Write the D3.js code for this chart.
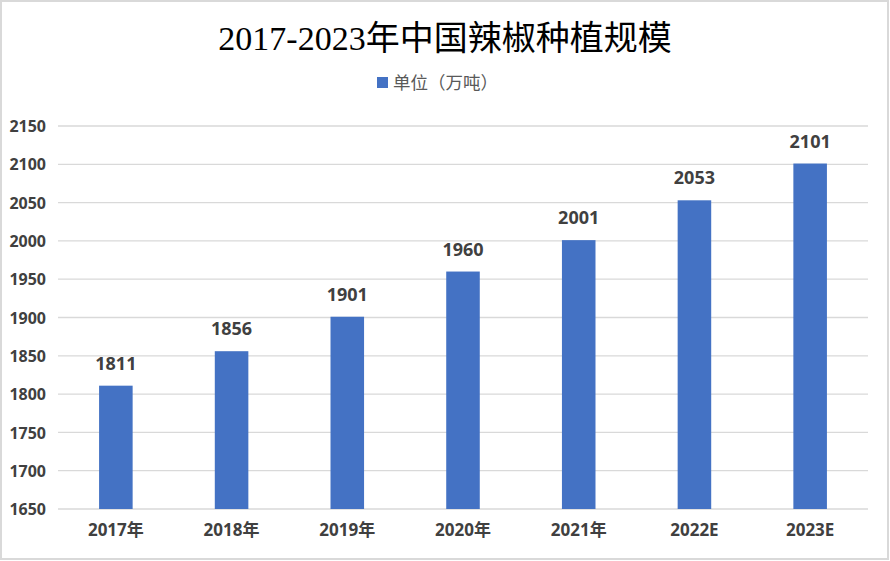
<!DOCTYPE html>
<html>
<head>
<meta charset="utf-8">
<script src="https://cdn.jsdelivr.net/npm/d3@7"></script>
<style>
  body { margin: 0; background: #fff; }
  svg { display: block; }
</style>
</head>
<body>
<svg id="chart" width="890" height="561"></svg>
<script>
const categories = ['2017年', '2018年', '2019年', '2020年', '2021年', '2022E', '2023E'];
const values = [1811, 1856, 1901, 1960, 2001, 2053, 2101];
const yTicks = [1650, 1700, 1750, 1800, 1850, 1900, 1950, 2000, 2050, 2100, 2150];
const seriesName = '单位（万吨）';
const title = '2017-2023年中国辣椒种植规模';

const svg = d3.select('#chart');
const width = +svg.attr('width');
const height = +svg.attr('height');
const margin = { top: 126, right: 22, bottom: 52, left: 58 };

svg.append('rect')
  .attr('x', 1).attr('y', 1)
  .attr('width', width - 3).attr('height', height - 3)
  .attr('fill', '#fff')
  .attr('stroke', '#d9d9d9')
  .attr('stroke-width', 2);

const x = d3.scaleBand()
  .domain(categories)
  .range([margin.left, width - margin.right])
  .paddingInner(0.71)
  .paddingOuter(0.355);

const y = d3.scaleLinear()
  .domain([1650, 2150])
  .range([height - margin.bottom, margin.top]);

// gridlines
svg.append('g')
  .selectAll('line')
  .data(yTicks)
  .enter().append('line')
  .attr('x1', margin.left)
  .attr('x2', width - margin.right)
  .attr('y1', d => y(d))
  .attr('y2', d => y(d))
  .attr('stroke', '#d9d9d9')
  .attr('stroke-width', 1.3);

// y axis labels
const yAxis = svg.append('g')
  .attr('transform', `translate(${margin.left - 12},0)`)
  .call(d3.axisLeft(y).tickValues(yTicks).tickFormat(d3.format('d')).tickSize(0).tickPadding(0));
yAxis.select('.domain').remove();
yAxis.selectAll('text')
  .attr('fill', '#404040')
  .attr('font-family', '"Noto Sans", sans-serif')
  .attr('font-weight', 'bold')
  .attr('font-size', 16)
  .attr('dy', '0.35em');

// x axis labels
const xAxis = svg.append('g')
  .attr('transform', `translate(0,${height - margin.bottom})`)
  .call(d3.axisBottom(x).tickSize(0).tickPadding(15));
xAxis.select('.domain').remove();
xAxis.selectAll('text')
  .attr('fill', '#404040')
  .attr('font-family', '"Noto Sans", "Noto Sans CJK SC", sans-serif')
  .attr('font-weight', 'bold')
  .attr('font-size', 17);

// bars
svg.append('g')
  .selectAll('rect')
  .data(values)
  .enter().append('rect')
  .attr('x', (d, i) => x(categories[i]))
  .attr('y', d => y(d))
  .attr('width', x.bandwidth())
  .attr('height', d => y(1650) - y(d))
  .attr('fill', '#4472c4');

// data labels
svg.append('g')
  .selectAll('text')
  .data(values)
  .enter().append('text')
  .attr('x', (d, i) => x(categories[i]) + x.bandwidth() / 2)
  .attr('y', d => y(d) - 16)
  .attr('text-anchor', 'middle')
  .attr('fill', '#404040')
  .attr('font-family', '"Noto Sans", sans-serif')
  .attr('font-weight', 'bold')
  .attr('font-size', 18)
  .text(d => d);

// title
svg.append('text')
  .attr('x', width / 2)
  .attr('y', 50)
  .attr('text-anchor', 'middle')
  .attr('fill', '#000')
  .attr('font-family', '"Liberation Serif", "Noto Sans CJK SC", serif')
  .attr('font-size', 34)
  .text(title);

// legend
const legend = svg.append('g').attr('transform', 'translate(377,77)');
legend.append('rect')
  .attr('width', 11).attr('height', 11)
  .attr('fill', '#4472c4');
legend.append('text')
  .attr('x', 16).attr('y', 12)
  .attr('fill', '#595959')
  .attr('font-family', '"Noto Sans CJK SC", sans-serif')
  .attr('font-size', 17.5)
  .text(seriesName);
</script>
</body>
</html>
